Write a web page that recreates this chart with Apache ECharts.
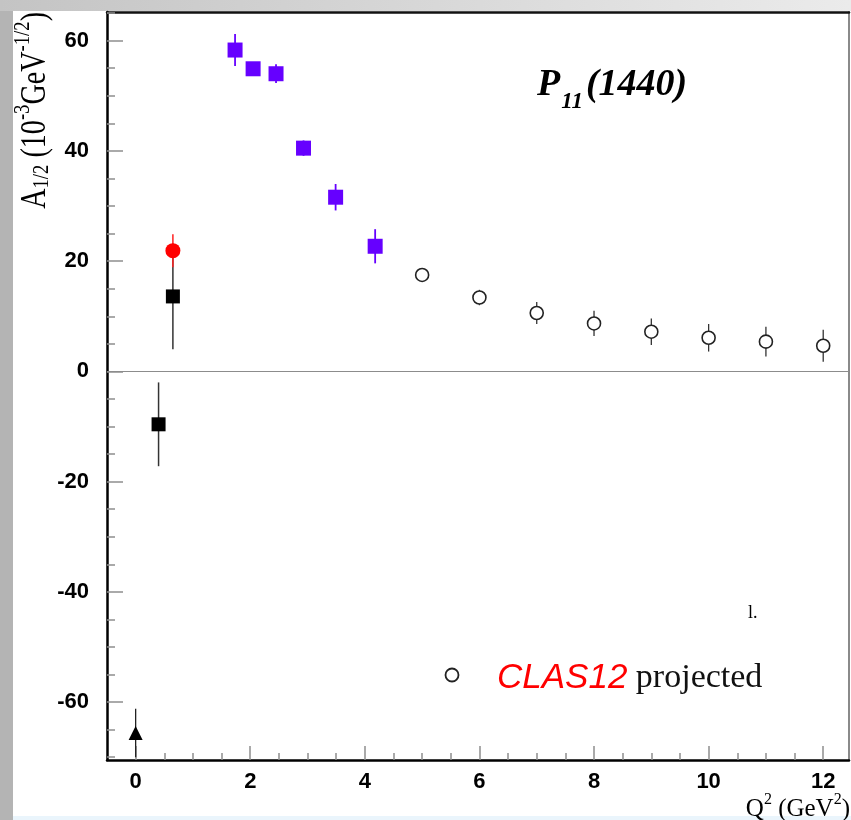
<!DOCTYPE html>
<html>
<head>
<meta charset="utf-8">
<title>P11(1440) A1/2 vs Q2</title>
<script src="https://cdn.jsdelivr.net/npm/echarts@6/dist/echarts.min.js"></script>
<style>
  html, body { margin: 0; padding: 0; background: #ffffff; }
  #main { width: 851px; height: 820px; }
</style>
</head>
<body>
<div id="main"></div>
<script>
// CLAS measurements (purple squares): Q^2 in GeV^2, A1/2 in 10^-3 GeV^-1/2
const clasQ2  = [1.735, 2.05, 2.45, 2.93, 3.49, 4.18];
const clasA   = [58.3, 54.9, 54.0, 40.5, 31.6, 22.7];
const clasErr = [2.9, 1.0, 1.7, 1.4, 2.4, 3.1];

// Earlier low-Q^2 results (black squares)
const blackQ2  = [0.65, 0.40];
const blackA   = [13.6, -9.6];
const blackErr = [9.6, 7.6];

// Red point
const redQ2  = [0.65];
const redA   = [21.9];
const redErr = [3.0];

// Photon point (black triangle)
const photonQ2  = [0.0];
const photonA   = [-65.6];
const photonErr = [4.4];

// CLAS12 projected (open circles)
const projQ2  = [5, 6, 7, 8, 9, 10, 11, 12];
const projA   = [17.5, 13.4, 10.6, 8.7, 7.2, 6.1, 5.4, 4.65];
const projErr = [1.1, 1.4, 2.0, 2.3, 2.4, 2.5, 2.7, 2.9];

// Axis ranges and tick values
const xRange = [-0.5, 12.45];
const yRange = [-70.5, 65.2];
const xMajorTicks = [0, 2, 4, 6, 8, 10, 12];
const yMajorTicks = [-60, -40, -20, 0, 20, 40, 60];
const xMinorTicks = [];
for (let v = 0.5; v <= 12.4; v += 0.5) xMinorTicks.push(+v.toFixed(1));
const yMinorTicks = [];
for (let v = -70; v <= 65; v += 5) yMinorTicks.push(v);

const tickGray = '#8f8f8f';
const purple = '#6600ff';

function toPoints(xs, ys) {
  return xs.map((x, i) => [x, ys[i]]);
}

function errorBars(name, xs, ys, es, color, width, z) {
  return {
    name: name,
    type: 'custom',
    xAxisIndex: 0,
    yAxisIndex: 0,
    z: z,
    clip: true,
    silent: true,
    data: xs.map((x, i) => [x, ys[i] - es[i], ys[i] + es[i]]),
    encode: { x: 0, y: [1, 2] },
    renderItem: function (params, api) {
      const lo = api.coord([api.value(0), api.value(1)]);
      const hi = api.coord([api.value(0), api.value(2)]);
      return {
        type: 'line',
        shape: { x1: lo[0], y1: lo[1], x2: hi[0], y2: hi[1] },
        style: { stroke: color, lineWidth: width }
      };
    }
  };
}

function markers(name, xs, ys, symbol, size, itemStyle, z) {
  return {
    name: name,
    type: 'scatter',
    xAxisIndex: 0,
    yAxisIndex: 0,
    z: z,
    symbol: symbol,
    symbolSize: size,
    itemStyle: Object.assign({ opacity: 1 }, itemStyle),
    silent: true,
    data: toPoints(xs, ys)
  };
}

const hiddenParts = {
  axisLabel: { show: false },
  splitLine: { show: false },
  axisTick: { show: false },
  axisLine: { show: false, onZero: false }
};

const chart = echarts.init(document.getElementById('main'), null, { renderer: 'canvas' });

const option = {
  backgroundColor: '#ffffff',
  animation: false,
  grid: { left: 107, top: 12, width: 742, height: 748, containLabel: false },
  xAxis: [
    {
      type: 'value', min: xRange[0], max: xRange[1], position: 'bottom',
      axisLine: { show: true, onZero: false, lineStyle: { color: '#000', width: 2.5 } },
      axisTick: { show: true, inside: true, length: 14, customValues: xMajorTicks, lineStyle: { color: tickGray, width: 1.5 } },
      axisLabel: {
        show: true, customValues: xMajorTicks, margin: 11,
        fontFamily: 'Liberation Sans', fontWeight: 'bold', fontSize: 22, color: '#000'
      },
      splitLine: { show: false }
    },
    {
      type: 'value', min: xRange[0], max: xRange[1], position: 'bottom',
      axisLine: { show: false, onZero: false },
      axisTick: { show: true, inside: true, length: 7, customValues: xMinorTicks, lineStyle: { color: tickGray, width: 1.5 } },
      axisLabel: { show: false },
      splitLine: { show: false }
    },
    Object.assign({}, hiddenParts, {
      type: 'value', min: xRange[0], max: xRange[1], position: 'top',
      axisLine: { show: true, onZero: false, lineStyle: { color: '#111', width: 2.5 } }
    })
  ],
  yAxis: [
    {
      type: 'value', min: yRange[0], max: yRange[1], position: 'left',
      axisLine: { show: true, onZero: false, lineStyle: { color: '#000', width: 2.5 } },
      axisTick: { show: true, inside: true, length: 16, customValues: yMajorTicks, lineStyle: { color: tickGray, width: 1.5 } },
      axisLabel: {
        show: true, customValues: yMajorTicks, margin: 18,
        fontFamily: 'Liberation Sans', fontWeight: 'bold', fontSize: 22, color: '#000'
      },
      splitLine: { show: false }
    },
    {
      type: 'value', min: yRange[0], max: yRange[1], position: 'left',
      axisLine: { show: false, onZero: false },
      axisTick: { show: true, inside: true, length: 8, customValues: yMinorTicks, lineStyle: { color: tickGray, width: 1.5 } },
      axisLabel: { show: false },
      splitLine: { show: false }
    },
    Object.assign({}, hiddenParts, {
      type: 'value', min: yRange[0], max: yRange[1], position: 'right',
      axisLine: { show: true, onZero: false, lineStyle: { color: '#8a8a8a', width: 2 } }
    })
  ],
  series: [
    // zero reference line
    {
      name: 'zero', type: 'line', xAxisIndex: 0, yAxisIndex: 0, data: [], z: 1,
      markLine: {
        silent: true, symbol: 'none', label: { show: false },
        lineStyle: { color: '#8c8c8c', width: 1, type: 'solid' },
        data: [{ yAxis: 0 }]
      }
    },
    errorBars('proj-err', projQ2, projA, projErr, '#333', 1.3, 3),
    markers('CLAS12 projected', projQ2, projA, 'circle', 13, { color: '#ffffff', borderColor: '#222', borderWidth: 1.6 }, 4),
    errorBars('photon-err', photonQ2, photonA, photonErr, '#222', 1.3, 3),
    markers('photon', photonQ2, photonA, 'triangle', 14, { color: '#000' }, 4),
    errorBars('black-err', blackQ2, blackA, blackErr, '#333', 1.5, 3),
    markers('black', blackQ2, blackA, 'rect', 14, { color: '#000' }, 4),
    errorBars('red-err', redQ2, redA, redErr, '#ff2020', 1.5, 5),
    markers('red', redQ2, redA, 'circle', 15, { color: '#ff0000' }, 6),
    errorBars('clas-err', clasQ2, clasA, clasErr, purple, 1.8, 5),
    markers('CLAS', clasQ2, clasA, 'rect', 15, { color: purple }, 6)
  ],
  graphic: [
    // page frame
    { type: 'rect', z: -10, silent: true, shape: { x: 0, y: 0, width: 13, height: 820 }, style: { fill: '#b4b4b4' } },
    {
      type: 'rect', z: -10, silent: true, shape: { x: 0, y: 0, width: 851, height: 11 },
      style: { fill: new echarts.graphic.LinearGradient(0, 0, 1, 0, [
        { offset: 0, color: '#c4c4c4' }, { offset: 1, color: '#ebebeb' }
      ]) }
    },
    { type: 'rect', z: -10, silent: true, shape: { x: 13, y: 816, width: 838, height: 4 }, style: { fill: '#eaf5fc' } },

    // resonance label
    {
      type: 'text', x: 537, y: 66, z: 100, silent: true,
      style: {
        text: '{m|P}{s|11}{m|(1440)}',
        align: 'left', verticalAlign: 'top',
        rich: {
          m: { fontFamily: 'Liberation Serif', fontStyle: 'italic', fontWeight: 'bold', fontSize: 38, lineHeight: 48, verticalAlign: 'top', fill: '#000' },
          s: { fontFamily: 'Liberation Serif', fontStyle: 'italic', fontWeight: 'bold', fontSize: 23, lineHeight: 23, verticalAlign: 'bottom', padding: [0, 3, 0, 1], fill: '#000' }
        }
      }
    },

    // y-axis title
    {
      type: 'text', x: 54, y: 12, rotation: Math.PI / 2, scaleX: 0.78, z: 100, silent: true,
      style: {
        text: '{m|A}{sb|1/2}{m| (10}{sp|-3}{m|GeV}{sp|-1/2}{m|)}',
        align: 'right', verticalAlign: 'bottom',
        rich: {
          m:  { fontFamily: 'Liberation Serif', fontSize: 36, lineHeight: 43, verticalAlign: 'bottom', fill: '#000' },
          sb: { fontFamily: 'Liberation Serif', fontSize: 24, lineHeight: 24, verticalAlign: 'bottom', fill: '#000' },
          sp: { fontFamily: 'Liberation Serif', fontSize: 24, lineHeight: 24, verticalAlign: 'top', fill: '#000' }
        }
      }
    },

    // x-axis title
    {
      type: 'text', x: 850, y: 822, z: 100, silent: true,
      style: {
        text: '{m|Q}{sp|2}{m| (GeV}{sp|2}{m|)}',
        align: 'right', verticalAlign: 'bottom',
        rich: {
          m:  { fontFamily: 'Liberation Serif', fontSize: 25, lineHeight: 30, verticalAlign: 'bottom', fill: '#000' },
          sp: { fontFamily: 'Liberation Serif', fontSize: 16, lineHeight: 16, verticalAlign: 'top', fill: '#000' }
        }
      }
    },

    // legend
    {
      type: 'circle', x: 452, y: 675, z: 100, silent: true,
      shape: { r: 6.5 }, style: { fill: '#ffffff', stroke: '#222', lineWidth: 1.8 }
    },
    {
      type: 'text', x: 497, y: 678, z: 100, silent: true,
      style: {
        text: '{a|CLAS12}{b| projected}',
        align: 'left', verticalAlign: 'middle',
        rich: {
          a: { fontFamily: 'Liberation Sans', fontStyle: 'italic', fontSize: 35, fill: '#ff0000' },
          b: { fontFamily: 'Liberation Serif', fontSize: 34, fill: '#111' }
        }
      }
    },

    // stray mark
    {
      type: 'text', x: 748, y: 604, z: 100, silent: true,
      style: { text: 'l.', fontFamily: 'Liberation Serif', fontSize: 18, fill: '#000', align: 'left', verticalAlign: 'top' }
    }
  ]
};

chart.setOption(option);
</script>
</body>
</html>
